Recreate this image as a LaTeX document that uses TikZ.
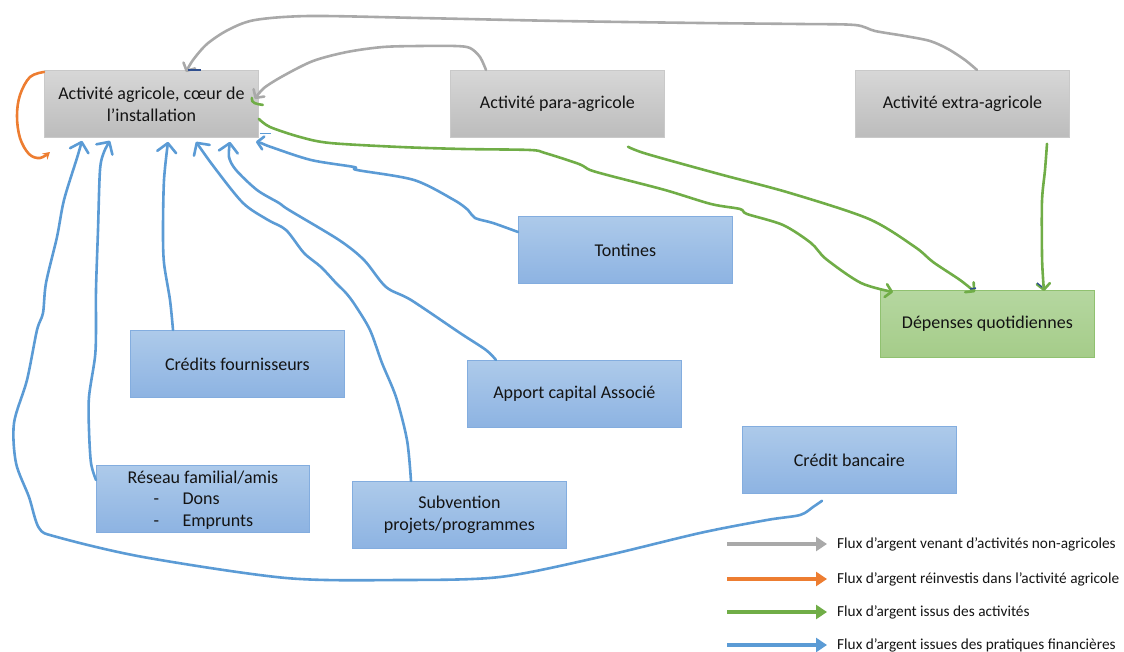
\documentclass[tikz,border=0pt]{standalone}
\usepackage{fontspec}
\setmainfont{Carlito}
\usetikzlibrary{arrows.meta}

\definecolor{flowblue}{HTML}{5B9BD5}
\definecolor{flowgreen}{HTML}{70AD47}
\definecolor{flowgray}{HTML}{A9A9A9}
\definecolor{floworange}{HTML}{ED7D31}
\definecolor{handle}{HTML}{2F4F8F}
\definecolor{graytop}{HTML}{D7D7D7}
\definecolor{graybot}{HTML}{BCBCBC}
\definecolor{grayline}{HTML}{C9C9C9}
\definecolor{bluetop}{HTML}{ADCAEA}
\definecolor{bluebot}{HTML}{8DB3E2}
\definecolor{blueline}{HTML}{83ADDF}
\definecolor{greentop}{HTML}{B5D7A0}
\definecolor{greenbot}{HTML}{A5CC89}
\definecolor{greenline}{HTML}{90C170}

\begin{document}
\begin{tikzpicture}[x=1pt,y=-1pt,
  box/.style={line width=0.8pt, minimum width=214pt, minimum height=67pt,
    inner sep=0pt, anchor=north west, align=center,
    font=\fontsize{18}{22}\selectfont, text=black!92},
  graybox/.style={box, draw=grayline, top color=graytop, bottom color=graybot},
  bluebox/.style={box, draw=blueline, top color=bluetop, bottom color=bluebot},
  greenbox/.style={box, draw=greenline, top color=greentop, bottom color=greenbot},
  flow/.style={line width=2.6pt, line cap=round, line join=round},
  bigbarb/.style={-{Straight Barb[length=9pt,width=19pt,round]}},
  smallbarb/.style={-{Straight Barb[length=6pt,width=13pt,round]}},
  legtext/.style={font=\fontsize{15.3}{18}\selectfont, text=black!92, inner sep=0pt, anchor=west},
  legarrow/.style={line width=3.8pt, -{Triangle[length=11pt,width=14pt]}},
  handlemark/.style={line width=1.4pt}
]
\useasboundingbox (0,0) rectangle (1124,652);

% boxes
\node[graybox] (agri) at (44,70) {Activité agricole, cœur de\\l’installation};
\node[graybox] (para) at (450,70) {Activité para-agricole};
\node[graybox] (extra) at (855,70) {Activité extra-agricole};
\node[greenbox] (dep) at (880,290) {Dépenses quotidiennes};
\node[bluebox] (tont) at (518,216) {Tontines};
\node[bluebox] (credf) at (130,330) {Crédits fournisseurs};
\node[bluebox] (apport) at (467,360) {Apport capital Associé};
\node[bluebox] (credb) at (742,426) {Crédit bancaire};
\node[bluebox, minimum width=213pt] (reseau) at (96,465) {};
\node[font=\fontsize{18}{21.5}\selectfont, text=black!92, align=left, inner sep=0pt]
  (reseautxt) at ([yshift=-1pt]reseau.center)
  {Réseau familial/amis\\\hspace*{26pt}\makebox[29pt][l]{-}Dons\\\hspace*{26pt}\makebox[29pt][l]{-}Emprunts};
\node[bluebox] (subv) at (352,481) {Subvention\\projets/programmes};

% end points on the boxes
\coordinate (g1s) at ([xshift=122pt]extra.north west);
\coordinate (g1e) at ([xshift=142pt,yshift=-2pt]agri.north west);
\coordinate (g2s) at ([xshift=36pt]para.north west);
\coordinate (g2e) at ([xshift=-4pt,yshift=5pt]agri.east);
\coordinate (v1s) at ([yshift=-15pt]agri.east);
\coordinate (v1e) at ([xshift=13pt,yshift=-2pt]dep.north west);
\coordinate (v2s) at ([xshift=178pt,yshift=-9pt]para.south west);
\coordinate (v2e) at ([xshift=95pt,yshift=-2pt]dep.north west);
\coordinate (v3s) at ([xshift=192pt,yshift=-6pt]extra.south west);
\coordinate (v3e) at ([xshift=164pt,yshift=-1pt]dep.north west);
\coordinate (os) at ([yshift=-2pt]agri.north west);
\coordinate (ba) at ([xshift=80pt,yshift=-7pt]credb.south west);
\coordinate (bae) at ([xshift=38pt,yshift=-3pt]agri.south west);
\coordinate (bb) at ([yshift=-15pt]reseau.north west);
\coordinate (bbe) at ([xshift=66pt,yshift=-3pt]agri.south west);
\coordinate (bc) at ([xshift=43pt]credf.north west);
\coordinate (bce) at ([xshift=124pt,yshift=-4pt]agri.south west);
\coordinate (bd) at ([xshift=59pt]subv.north west);
\coordinate (bde) at ([xshift=152pt,yshift=-4pt]agri.south west);
\coordinate (be) at ([xshift=29pt]apport.north west);
\coordinate (bee) at ([xshift=186pt,yshift=-4pt]agri.south west);
\coordinate (bf) at ([yshift=-16pt]tont.north west);
\coordinate (bfe) at ([xshift=212pt,yshift=-4pt]agri.south west);

% money from non-agricultural activities
\draw[flow, flowgray, smallbarb] plot[smooth, tension=0.5] coordinates {
  (g1s) (965,60) (948,49) (930,41) (905,36) (875,31) (855,25) (800,24) (700,23)
  (560,21) (420,18) (310,16) (255,20) (228,30) (207,44) (193,60) (g1e)};
\draw[flow, flowgray, smallbarb] plot[smooth, tension=0.5] coordinates {
  (g2s) (480,57) (470,48) (455,46) (420,46) (383,47) (347,52) (313,61)
  (283,76) (264,88) (g2e)};

% reinvestment loop
\draw[flow, floworange, -{Stealth[length=7pt,width=8pt]}] plot[smooth, tension=0.6] coordinates {
  (os) (30,77) (20,95) (17,116) (20,138) (29,154) (40,158) (50,152)};

% money out of the activities
\draw[flow, flowgreen, smallbarb] plot[smooth, tension=0.5] coordinates {
  (v1s) (270,127) (300,137) (330,143) (400,147) (463,149) (530,150) (545,153)
  (579,164) (590,170) (611,176) (665,190) (711,204) (740,209) (747,214)
  (783,225) (811,243) (826,259) (861,283) (v1e)};
\draw[flow, flowgreen, smallbarb] plot[smooth, tension=0.5] coordinates {
  (v2s) (647,154) (719,174) (790,193) (869,219) (915,247) (933,262) (960,280) (v2e)};
\draw[flow, flowgreen, smallbarb] plot[smooth, tension=0.5] coordinates {
  (v3s) (1045,170) (1042,201) (1042,255) (1043,278) (v3e)};
\draw[flow, flowgreen] ([xshift=4pt,yshift=-1pt]agri.east) .. controls (256,104) and (251,103) .. ([xshift=-7pt,yshift=6pt]agri.east);

% money from financial practices
\draw[flow, flowblue, bigbarb] plot[smooth, tension=0.5] coordinates {
  (ba) (813,507) (800,515) (767,520) (700,533) (600,557) (500,577) (400,580)
  (286,578) (143,557) (57,537) (39,528) (29,497) (16,463) (14,423) (27,380)
  (37,330) (43,313) (46,283) (57,237) (64,200) (77,158) (bae)};
\draw[flow, flowblue, bigbarb] plot[smooth, tension=0.5] coordinates {
  (bb) (91,463) (89,430) (89,397) (95,357) (96,330) (96,290) (98,230)
  (100,170) (104,152) (bbe)};
\draw[flow, flowblue, bigbarb] plot[smooth, tension=0.5] coordinates {
  (bc) (170,300) (164,263) (163,230) (164,180) (bce)};
\draw[flow, flowblue, bigbarb] plot[smooth, tension=0.5] coordinates {
  (bd) (407,440) (396,397) (382,363) (370,330) (355,305) (346,293) (336,283)
  (321,267) (304,253) (286,230) (268,220) (243,203) (214,167) (bde)};
\draw[flow, flowblue, bigbarb] plot[smooth, tension=0.5] coordinates {
  (be) (486,350) (460,333) (411,300) (386,287) (364,260) (339,240) (289,210)
  (279,203) (257,190) (236,170) (229,157) (bee)};
\draw[flow, flowblue, smallbarb] plot[smooth, tension=0.5] coordinates {
  (bf) (493,223) (475,218) (468,210) (454,200) (414,180) (357,170) (354,167)
  (311,160) (271,147) (261,143) (bfe)};

% connection handles left on the boxes
\draw[handlemark, handle] ([xshift=144pt]agri.north west) -- ++(13,0);
\draw[handlemark, flowblue] ([xshift=1pt,yshift=4pt]agri.south east) -- ++(11,0);
\draw[handlemark, handle] ([xshift=90pt,yshift=1pt]dep.north west) -- ++(6,-1);
\draw[handlemark, handle] ([xshift=157pt,yshift=7pt]dep.north west) -- ++(5,4);

% legend
\node[legtext] (l1) at (837,544) {Flux d’argent venant d’activités non-agricoles};
\node[legtext] (l2) at (837,579) {Flux d’argent réinvestis dans l’activité agricole};
\node[legtext] (l3) at (837,612) {Flux d’argent issus des activités};
\node[legtext] (l4) at (837,645) {Flux d’argent issues des pratiques financières};
\coordinate (l1s) at (727,544);
\coordinate (l2s) at (727,579);
\coordinate (l3s) at (727,612);
\coordinate (l4s) at (727,645);
\draw[legarrow, flowgray] (l1s) -- ([xshift=-10pt]l1.west);
\draw[legarrow, floworange] (l2s) -- ([xshift=-10pt]l2.west);
\draw[legarrow, flowgreen] (l3s) -- ([xshift=-10pt]l3.west);
\draw[legarrow, flowblue] (l4s) -- ([xshift=-10pt]l4.west);
\end{tikzpicture}
\end{document}
